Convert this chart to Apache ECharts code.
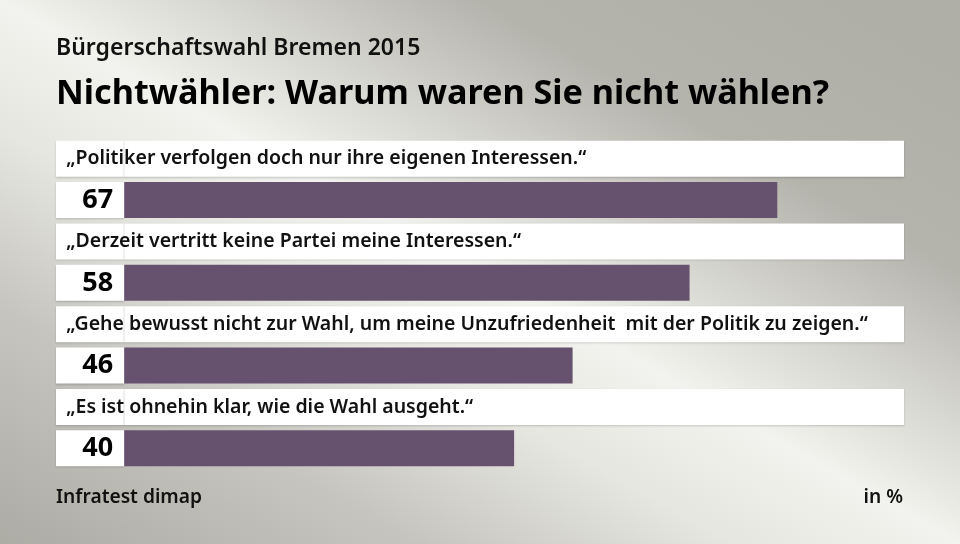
<!DOCTYPE html>
<html>
<head>
<meta charset="utf-8">
<script src="https://cdn.jsdelivr.net/npm/echarts@6/dist/echarts.min.js"></script>
<style>
  html, body { margin: 0; padding: 0; width: 960px; height: 544px; overflow: hidden; }
  #chart { width: 960px; height: 544px; }
</style>
</head>
<body>
<div id="chart"></div>
<script>
// ---- data ----
const subtitleText = 'Bürgerschaftswahl Bremen 2015';
const titleText = 'Nichtwähler: Warum waren Sie nicht wählen?';
const statements = [
  '„Politiker verfolgen doch nur ihre eigenen Interessen.“',
  '„Derzeit vertritt keine Partei meine Interessen.“',
  '„Gehe bewusst nicht zur Wahl, um meine Unzufriedenheit  mit der Politik zu zeigen.“',
  '„Es ist ohnehin klar, wie die Wahl ausgeht.“'
];
const values = [67, 58, 46, 40];
const sourceText = 'Infratest dimap';
const unitText = 'in %';

// ---- build ----
const AX_MIN = -7, AX_MAX = 80;
const FONT = '"Noto Sans", "Open Sans", sans-serif';
const cats = [], leftBox = [], textBox = [], barData = [], rowType = [];
statements.forEach((s, i) => {
  cats.push('q' + i); leftBox.push(AX_MIN); textBox.push(AX_MAX); barData.push('-'); rowType.push(['s', i]);
  cats.push('v' + i); leftBox.push(AX_MIN); textBox.push('-'); barData.push(values[i]); rowType.push(['v', i]);
});

const chart = echarts.init(document.getElementById('chart'), null, { renderer: 'canvas' });
const boxShadow = { shadowColor: 'rgba(0,0,0,0.18)', shadowBlur: 2, shadowOffsetY: 1 };
chart.setOption({
  animation: false,
  backgroundColor: {
    type: 'linear', x: 713, y: -140, x2: 247, y2: 684, global: true,
    colorStops: [
      { offset: 0, color: '#aeada6' },
      { offset: 0.25, color: '#b4b3ac' },
      { offset: 0.4, color: '#dadad4' },
      { offset: 0.5, color: '#f2f2ee' },
      { offset: 0.62, color: '#e6e6e1' },
      { offset: 0.78, color: '#c6c5bf' },
      { offset: 1, color: '#acaba4' }
    ]
  },
  textStyle: { fontFamily: FONT },
  grid: { left: 56, right: 56, top: 138, bottom: 75, containLabel: false },
  xAxis: { type: 'value', min: AX_MIN, max: AX_MAX, show: false },
  yAxis: { type: 'category', data: cats, inverse: true, show: false },
  graphic: [
    { type: 'text', left: 56, top: 37, style: { text: subtitleText, font: '600 23px ' + FONT, fill: '#111' } },
    { type: 'text', left: 56, top: 77, style: { text: titleText, font: 'bold 34.2px ' + FONT, fill: '#000' } },
    { type: 'text', left: 56, top: 488, style: { text: sourceText, font: '600 19.2px ' + FONT, fill: '#111' } },
    { type: 'text', right: 57, top: 488, style: { text: unitText, font: '600 19.2px ' + FONT, fill: '#111' } }
  ],
  series: [
    {
      type: 'bar', name: 'numBox', data: leftBox, barWidth: 36, barGap: '-100%', silent: true,
      itemStyle: Object.assign({ color: '#ffffff' }, boxShadow), z: 1
    },
    {
      type: 'bar', name: 'textBox', data: textBox, barWidth: 36, barGap: '-100%', silent: true,
      itemStyle: Object.assign({ color: '#ffffff' }, boxShadow), z: 1,
      label: {
        show: true, position: [-58, '50%'], align: 'left', verticalAlign: 'middle',
        fontFamily: FONT, fontSize: 19.5, fontWeight: 600, color: '#111',
        formatter: p => statements[rowType[p.dataIndex][1]]
      }
    },
    {
      type: 'bar', name: 'Anteil', data: barData, barWidth: 36, barGap: '-100%', silent: true,
      itemStyle: { color: '#66526e' }, z: 2,
      label: {
        show: true, position: [-11, '50%'], align: 'right', verticalAlign: 'middle',
        fontFamily: FONT, fontSize: 27, fontWeight: 'bold', color: '#000',
        formatter: p => String(p.value)
      }
    }
  ]
});
</script>
</body>
</html>
